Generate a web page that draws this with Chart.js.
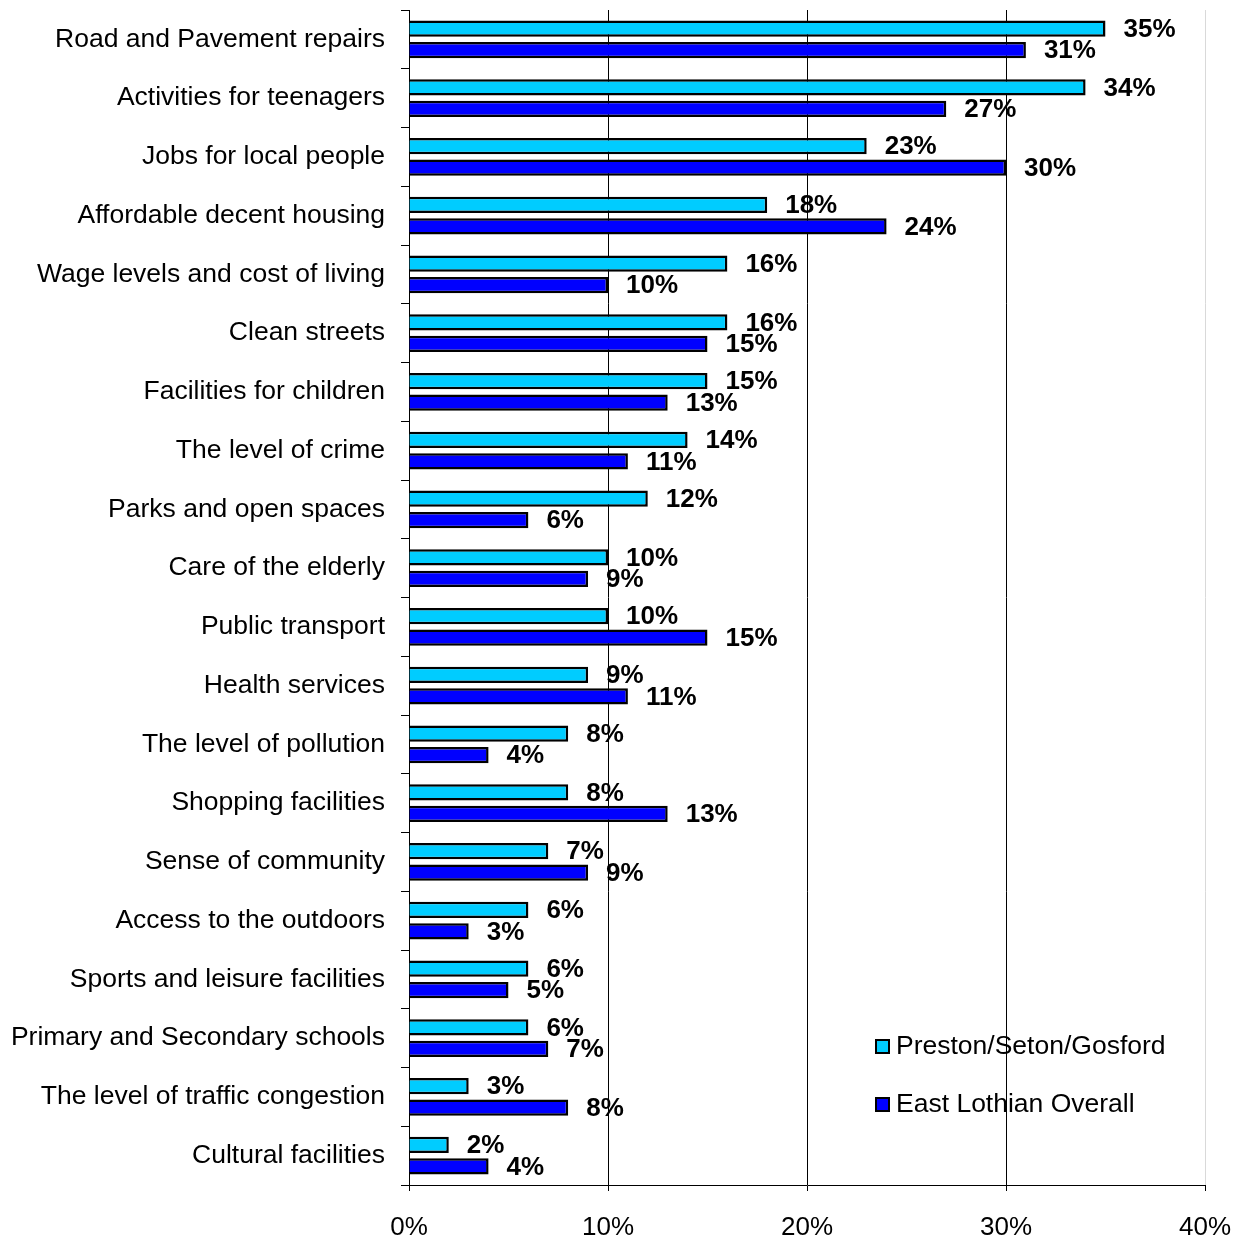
<!DOCTYPE html>
<html>
<head>
<meta charset="utf-8">
<script src="https://cdnjs.cloudflare.com/ajax/libs/Chart.js/4.4.1/chart.umd.min.js"></script>
<style>
  body { margin: 0; background: #fff; }
</style>
</head>
<body>
<canvas id="issuesChart" width="1245" height="1236"></canvas>
<script>
    const categories = [
        'Road and Pavement repairs',
        'Activities for teenagers',
        'Jobs for local people',
        'Affordable decent housing',
        'Wage levels and cost of living',
        'Clean streets',
        'Facilities for children',
        'The level of crime',
        'Parks and open spaces',
        'Care of the elderly',
        'Public transport',
        'Health services',
        'The level of pollution',
        'Shopping facilities',
        'Sense of community',
        'Access to the outdoors',
        'Sports and leisure facilities',
        'Primary and Secondary schools',
        'The level of traffic congestion',
        'Cultural facilities'
    ];
    const prestonValues = [35, 34, 23, 18, 16, 16, 15, 14, 12, 10, 10, 9, 8, 8, 7, 6, 6, 6, 3, 2];
    const eastLothianValues = [31, 27, 30, 24, 10, 15, 13, 11, 6, 9, 15, 11, 4, 13, 9, 3, 5, 7, 8, 4];
    const seriesNames = ['Preston/Seton/Gosford', 'East Lothian Overall'];
    const xTicks = [0, 10, 20, 30, 40];

    const FONT = '"Liberation Sans", Arial, sans-serif';

    // value labels at the end of each bar
    const valueLabels = {
        id: 'valueLabels',
        afterDatasetsDraw(chart) {
            const ctx = chart.ctx;
            ctx.save();
            ctx.font = 'bold 26px ' + FONT;
            ctx.fillStyle = '#000';
            ctx.textAlign = 'left';
            ctx.textBaseline = 'middle';
            chart.data.datasets.forEach((ds, i) => {
                chart.getDatasetMeta(i).data.forEach((bar, j) => {
                    ctx.fillText(ds.data[j] + '%', bar.x + 18, bar.y + 1);
                });
            });
            ctx.restore();
        }
    };

    // legend inside the plot, bottom right
    const insideLegend = {
        id: 'insideLegend',
        afterDraw(chart) {
            const ctx = chart.ctx;
            const area = chart.chartArea;
            ctx.save();
            ctx.font = '26.5px ' + FONT;
            ctx.textAlign = 'left';
            ctx.textBaseline = 'middle';
            chart.data.datasets.forEach((ds, i) => {
                const x = area.right - 329;
                const y = area.bottom - 139 + i * 58;
                ctx.fillStyle = ds.backgroundColor;
                ctx.fillRect(x, y - 6, 13, 13);
                ctx.strokeStyle = '#000';
                ctx.lineWidth = 2;
                ctx.strokeRect(x, y - 6, 13, 13);
                ctx.fillStyle = '#000';
                ctx.fillText(ds.label, x + 20, y + 1);
            });
            ctx.restore();
        }
    };

    const ctx1 = document.getElementById('issuesChart').getContext('2d');
    const issuesChart = new Chart(ctx1, {
        type: 'bar',
        data: {
            labels: categories,
            datasets: [{
                label: seriesNames[0],
                data: prestonValues,
                backgroundColor: '#00CCFF',
                borderColor: '#000',
                borderWidth: 2.5,
                categoryPercentage: 0.73,
                barPercentage: 0.76
            }, {
                label: seriesNames[1],
                data: eastLothianValues,
                backgroundColor: '#0000FF',
                borderColor: '#000',
                borderWidth: 2.5,
                categoryPercentage: 0.73,
                barPercentage: 0.76
            }]
        },
        options: {
            indexAxis: 'y',
            responsive: false,
            animation: false,
            layout: { padding: { top: 10, right: 40, left: 0, bottom: 0 } },
            plugins: {
                legend: { display: false },
                tooltip: { enabled: false }
            },
            scales: {
                x: {
                    min: 0,
                    max: 40,
                    afterBuildTicks: (scale) => { scale.ticks = xTicks.map(v => ({ value: v })); },
                    afterFit: (scale) => {
                        scale.height = 51;
                        scale.paddingLeft = 0;
                        scale.paddingRight = 0;
                    },
                    border: { display: true, color: '#000', width: 1 },
                    grid: {
                        color: (c) => c.tick && c.tick.value === 40 ? '#d9d9d9' : '#000',
                        tickColor: '#000',
                        tickLength: 6,
                        lineWidth: 1
                    },
                    ticks: {
                        color: '#000',
                        padding: 21,
                        font: { family: FONT, size: 26 },
                        callback: (v) => v + '%'
                    }
                },
                y: {
                    afterFit: (scale) => {
                        scale.width = 409;
                        scale.paddingTop = 0;
                        scale.paddingBottom = 0;
                    },
                    border: { display: true, color: '#000', width: 1 },
                    grid: {
                        offset: true,
                        drawOnChartArea: false,
                        color: '#000',
                        tickLength: 8
                    },
                    ticks: {
                        color: '#000',
                        padding: 16,
                        font: { family: FONT, size: 26.5 }
                    }
                }
            }
        },
        plugins: [valueLabels, insideLegend]
    });
</script>
</body>
</html>
